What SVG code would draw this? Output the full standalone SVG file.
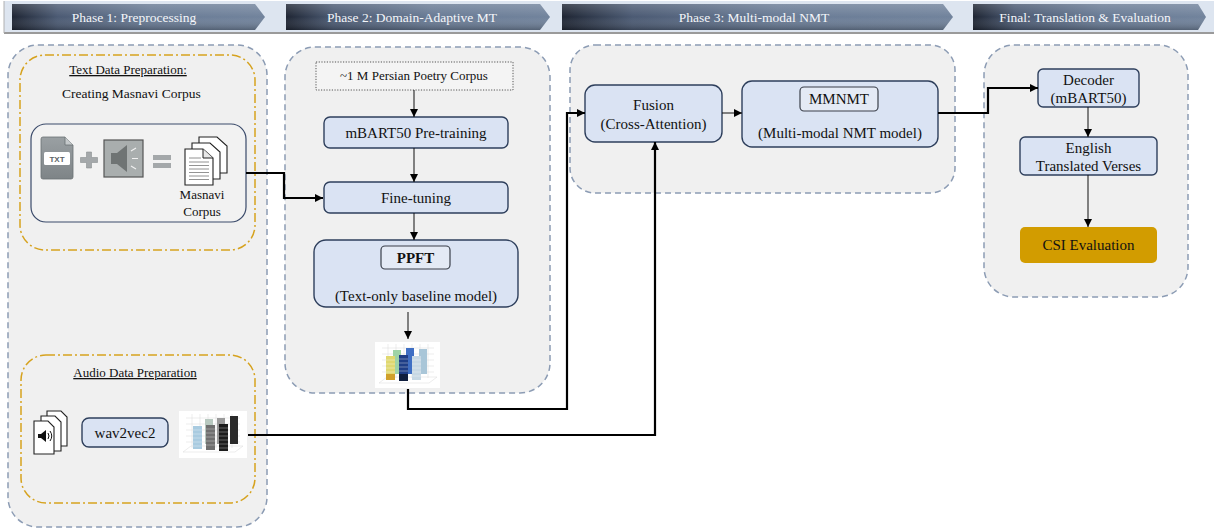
<svg xmlns="http://www.w3.org/2000/svg" width="1214" height="528" viewBox="0 0 1214 528">
  <style>
    .serif { font-family: "Liberation Serif", "Times New Roman", serif; fill: #111; }
    .hdr { font-family: "Liberation Serif", "Times New Roman", serif; font-size: 13.5px; fill: #f4f6fa; text-anchor: middle; }
    .panel { fill: #f0f0f0; stroke: #8c9cb4; stroke-width: 1.5; stroke-dasharray: 6 4; }
    .prep { fill: none; stroke: #d6a21e; stroke-width: 1.5; stroke-dasharray: 9 3 2 3; }
    .node { fill: #dae3f3; stroke: #2e3f5c; stroke-width: 1.4; }
    .tag { fill: #e4eaf5; stroke: #3a3f4a; stroke-width: 1.2; }
    .t15 { font-size: 15px; text-anchor: middle; }
    .t13 { font-size: 13px; text-anchor: middle; }
    .thin { fill: none; stroke: #111; stroke-width: 1; }
    .thick { fill: none; stroke: #000; stroke-width: 2.2; }
    .page { fill: #fff; stroke: #222; stroke-width: 1.1; }
    .grid { stroke: #d8d8d8; stroke-width: 0.5; fill: none; }
  </style>
  <defs>
    <linearGradient id="chev" x1="0" y1="0" x2="1" y2="0">
      <stop offset="0" stop-color="#1e2533"/>
      <stop offset="0.18" stop-color="#4b5a73"/>
      <stop offset="0.55" stop-color="#697b95"/>
      <stop offset="1" stop-color="#71839c"/>
    </linearGradient>
    <linearGradient id="chevShade" x1="0" y1="0" x2="0" y2="1">
      <stop offset="0" stop-color="#ffffff" stop-opacity="0.18"/>
      <stop offset="0.5" stop-color="#ffffff" stop-opacity="0"/>
      <stop offset="1" stop-color="#000000" stop-opacity="0.25"/>
    </linearGradient>
    <linearGradient id="docGrey" x1="0" y1="0" x2="0" y2="1">
      <stop offset="0" stop-color="#9aa0a3"/>
      <stop offset="1" stop-color="#7e8487"/>
    </linearGradient>
    <marker id="arr" viewBox="0 0 10 10" refX="10" refY="5" markerWidth="8" markerHeight="8" markerUnits="userSpaceOnUse" orient="auto">
      <path d="M0,0 L10,5 L0,10 z" fill="#000"/>
    </marker>
  </defs>

  <rect width="1214" height="528" fill="#ffffff"/>

  <!-- phase header band -->
  <g id="header">
    <rect x="4" y="1" width="1210" height="32" fill="#dde5f0"/>
    <line x1="4" y1="33" x2="1214" y2="33" stroke="#9a9a9a" stroke-width="2"/>
    <line x1="4" y1="1" x2="4" y2="33" stroke="#b0b0b0" stroke-width="1"/>
    <g id="phase1">
      <polygon points="12,4 255,4 265,17 255,30 12,30" fill="url(#chev)"/>
      <polygon points="12,4 255,4 265,17 255,30 12,30" fill="url(#chevShade)"/>
      <text class="hdr" x="134" y="22">Phase 1: Preprocessing</text>
    </g>
    <g id="phase2">
      <polygon points="286,4 540,4 550,17 540,30 286,30" fill="url(#chev)"/>
      <polygon points="286,4 540,4 550,17 540,30 286,30" fill="url(#chevShade)"/>
      <text class="hdr" x="412" y="22">Phase 2: Domain-Adaptive MT</text>
    </g>
    <g id="phase3">
      <polygon points="562,4 943,4 953,17 943,30 562,30" fill="url(#chev)"/>
      <polygon points="562,4 943,4 953,17 943,30 562,30" fill="url(#chevShade)"/>
      <text class="hdr" x="754" y="22">Phase 3: Multi-modal NMT</text>
    </g>
    <g id="phaseFinal">
      <polygon points="973,4 1198,4 1206,17 1198,30 973,30" fill="url(#chev)"/>
      <polygon points="973,4 1198,4 1206,17 1198,30 973,30" fill="url(#chevShade)"/>
      <text class="hdr" x="1085" y="22">Final: Translation &amp; Evaluation</text>
    </g>
  </g>

  <!-- stage panels -->
  <g id="panel-preprocessing">
    <rect class="panel" x="8" y="45" width="259" height="482" rx="30"/>
  </g>
  <g id="panel-domain">
    <rect class="panel" x="285" y="47" width="265" height="346" rx="30"/>
  </g>
  <g id="panel-multimodal">
    <rect class="panel" x="570" y="45" width="385" height="148" rx="25"/>
  </g>
  <g id="panel-final">
    <rect class="panel" x="984" y="45" width="204" height="252" rx="30"/>
  </g>

  <!-- text data preparation -->
  <g id="text-prep">
    <rect class="prep" x="20" y="55" width="235" height="195" rx="25"/>
    <text class="serif t13" x="128" y="74" text-decoration="underline">Text Data Preparation:</text>
    <text class="serif" x="62" y="98" font-size="13.5">Creating  Masnavi Corpus</text>
    <rect x="31" y="124" width="215" height="98" rx="15" fill="#f2f2f2" stroke="#3a4a6a" stroke-width="1.2"/>
    <!-- TXT file -->
    <path d="M43,137 H65 L73,145 V177 Q73,179 71,179 H43 Q41,179 41,177 V139 Q41,137 43,137 Z" fill="url(#docGrey)" stroke="#6b7174" stroke-width="0.8"/>
    <path d="M65,137 V145 H73" fill="#c4c8ca" stroke="#6b7174" stroke-width="0.8"/>
    <rect x="44" y="152" width="26" height="13" rx="1.5" fill="#fff"/>
    <text x="57" y="162" font-family="Liberation Sans, Arial, sans-serif" font-size="8" font-weight="bold" text-anchor="middle" fill="#5d6366">TXT</text>
    <!-- plus -->
    <path d="M86.5,152 h5 v5.5 h6 v5 h-6 v5.5 h-5 v-5.5 h-6 v-5 h6 z" fill="#a4a8aa" stroke="#8a8e90" stroke-width="0.6"/>
    <!-- speaker tile -->
    <rect x="104" y="140" width="39" height="37" fill="#a9aeae" stroke="#555" stroke-width="1.2"/>
    <path d="M111,153 h6 l10,-8 v27 l-10,-8 h-6 z" fill="#6f7474"/>
    <path d="M131,151 l5,-3 M132,158.5 h6 M131,166 l5,3" stroke="#f0f0f0" stroke-width="1.2"/>
    <!-- equals -->
    <rect x="153" y="155" width="18" height="5" fill="#a4a8aa"/>
    <rect x="153" y="163" width="18" height="5" fill="#a4a8aa"/>
    <!-- corpus page stack -->
    <path class="page" d="M199,137 h18 l10,9 v27 h-28 z"/>
    <path class="page" d="M192,143 h18 l10,9 v27 h-28 z"/>
    <path class="page" d="M185,149 h18 l10,9 v27 h-28 z"/>
    <path d="M203,149 v9 h10" fill="#e8e8e8" stroke="#222" stroke-width="1"/>
    <path d="M189,158 h12 M189,162 h20 M189,165.5 h20 M189,169 h20 M189,172.5 h20 M189,176 h20 M189,179.5 h20" stroke="#777" stroke-width="0.8"/>
    <text class="serif t13" x="202" y="199">Masnavi</text>
    <text class="serif t13" x="202" y="216">Corpus</text>
  </g>

  <!-- audio data preparation -->
  <g id="audio-prep">
    <rect class="prep" x="21" y="355" width="234" height="148" rx="25"/>
    <text class="serif t13" x="135" y="377" text-decoration="underline">Audio Data Preparation</text>
    <!-- audio page stack -->
    <path class="page" d="M47,411 h14 l6,6 v29 h-20 z"/>
    <path class="page" d="M41,416 h14 l6,6 v29 h-20 z"/>
    <path class="page" d="M34,421 h14 l6,6 v27 h-20 z"/>
    <path d="M38,434 h3 l5,-4 v12 l-5,-4 h-3 z" fill="#111"/>
    <path d="M48,433 q2,3 0,6 M50,431 q3.5,5 0,10" fill="none" stroke="#111" stroke-width="1"/>
  </g>
  <g id="wav2vec2">
    <rect class="node" x="82" y="418" width="86" height="29" rx="7"/>
    <text class="serif t15" x="125" y="438" font-size="15.5">wav2vec2</text>
  </g>
  <g id="audio-features">
    <rect x="179" y="411" width="68" height="47" fill="#fff"/>
    <path class="grid" d="M186,418 h54 M186,424 h54 M186,430 h54 M186,436 h54 M186,442 h54 M192,414 v34 M200,414 v34 M208,414 v34 M216,414 v34 M224,414 v34 M232,414 v34"/>
    <path class="grid" d="M183,452 l8,-6 h52 l-8,6 z"/>
    <rect x="205" y="419" width="8" height="25" fill="#b8c9c0"/>
    <rect x="217" y="418" width="8" height="26" fill="#9a9a9a"/>
    <rect x="230" y="416" width="8" height="28" fill="#2a2a2a"/>
    <rect x="193" y="426" width="9" height="23" fill="#a9cbe0"/>
    <rect x="206" y="425" width="9" height="25" fill="#6f6f6f"/>
    <rect x="219" y="424" width="9" height="27" fill="#1c1c1c"/>
    <path d="M193,430 h9 M193,434 h9 M193,438 h9 M193,442 h9 M193,446 h9 M206,429 h9 M206,433 h9 M206,437 h9 M206,441 h9 M206,445 h9 M219,428 h9 M219,432 h9 M219,436 h9 M219,440 h9 M219,444 h9 M219,448 h9" stroke="#ffffff" stroke-opacity="0.45" stroke-width="0.7"/>
  </g>

  <!-- domain-adaptive MT -->
  <g id="corpus-1m">
    <rect x="316" y="62" width="197" height="28" fill="#f4f4f4" stroke="#555" stroke-width="1" stroke-dasharray="1.2 1.5"/>
    <text class="serif t13" x="414" y="80">~1 M Persian Poetry Corpus</text>
  </g>
  <g id="pretraining">
    <rect class="node" x="324" y="117" width="184" height="31" rx="6"/>
    <text class="serif t15" x="416" y="138" font-size="15.4">mBART50 Pre-training</text>
  </g>
  <g id="finetuning">
    <rect class="node" x="324" y="182" width="184" height="31" rx="6"/>
    <text class="serif t15" x="416" y="203" font-size="15.4">Fine-tuning</text>
  </g>
  <g id="ppft">
    <rect class="node" x="314" y="240" width="204" height="67" rx="12"/>
    <rect class="tag" x="381" y="246" width="69" height="23" rx="4"/>
    <text class="serif t15" x="415.5" y="263" font-weight="bold">PPFT</text>
    <text class="serif t15" x="416" y="301">(Text-only baseline model)</text>
  </g>
  <g id="text-features">
    <rect x="375" y="342" width="65" height="46" fill="#fff"/>
    <path class="grid" d="M382,348 h52 M382,354 h52 M382,360 h52 M382,366 h52 M382,372 h52 M388,344 v34 M396,344 v34 M404,344 v34 M412,344 v34 M420,344 v34 M428,344 v34"/>
    <path class="grid" d="M379,383 l8,-6 h50 l-8,6 z"/>
    <rect x="393" y="350" width="8" height="24" fill="#9fd3a6"/>
    <rect x="406" y="348" width="8" height="26" fill="#3f6fc4"/>
    <rect x="419" y="349" width="8" height="25" fill="#a9c6d8"/>
    <rect x="386" y="356" width="9" height="24" fill="#e0d870"/>
    <rect x="399" y="355" width="9" height="26" fill="#1f3e86"/>
    <rect x="412" y="356" width="9" height="24" fill="#c7d8e4"/>
    <rect x="386" y="374" width="9" height="6" fill="#d0a02a"/>
    <rect x="399" y="374" width="9" height="7" fill="#0f1e3e"/>
    <path d="M386,360 h9 M386,364 h9 M386,368 h9 M386,372 h9 M399,359 h9 M399,363 h9 M399,367 h9 M399,371 h9 M412,360 h9 M412,364 h9 M412,368 h9 M412,372 h9 M412,376 h9" stroke="#ffffff" stroke-opacity="0.5" stroke-width="0.7"/>
  </g>

  <!-- multi-modal NMT -->
  <g id="fusion">
    <rect class="node" x="585" y="85" width="137" height="57" rx="10"/>
    <text class="serif t15" x="653.5" y="110">Fusion</text>
    <text class="serif t15" x="653.5" y="129">(Cross-Attention)</text>
  </g>
  <g id="mmnmt">
    <rect class="node" x="742" y="81" width="196" height="66" rx="10"/>
    <rect class="tag" x="800" y="87" width="78" height="24" rx="4"/>
    <text class="serif t15" x="839" y="104">MMNMT</text>
    <text class="serif t15" x="840" y="138" font-size="14">(Multi-modal NMT model)</text>
  </g>

  <!-- translation & evaluation -->
  <g id="decoder">
    <rect class="node" x="1038" y="69" width="101" height="38" rx="5"/>
    <text class="serif t15" x="1088.5" y="85">Decoder</text>
    <text class="serif t15" x="1088.5" y="103">(mBART50)</text>
  </g>
  <g id="english">
    <rect class="node" x="1020" y="137" width="137" height="38" rx="5"/>
    <text class="serif t15" x="1088.5" y="153">English</text>
    <text class="serif t15" x="1088.5" y="171">Translated Verses</text>
  </g>
  <g id="csi">
    <rect x="1020" y="227" width="137" height="36" rx="5" fill="#d29c00"/>
    <text class="serif t15" x="1088.5" y="250">CSI Evaluation</text>
  </g>

  <!-- connectors -->
  <g id="connectors">
    <path class="thick" d="M246,173 H284 V198 H323" marker-end="url(#arr)"/>
    <path class="thin" d="M414,90 V117" marker-end="url(#arr)"/>
    <path class="thin" d="M414,148 V182" marker-end="url(#arr)"/>
    <path class="thin" d="M414,213 V240" marker-end="url(#arr)"/>
    <path class="thin" d="M408,312 V339" marker-end="url(#arr)"/>
    <path class="thick" d="M408,389 V409 H567 V113 H585" marker-end="url(#arr)"/>
    <path class="thin" d="M722,113 H742" marker-end="url(#arr)"/>
    <path class="thick" d="M938,113 H988 V88 H1038" marker-end="url(#arr)"/>
    <path class="thick" d="M248,435 H655 V142" marker-end="url(#arr)"/>
    <path class="thin" d="M1088,107 V137" marker-end="url(#arr)"/>
    <path class="thin" d="M1088,175 V227" marker-end="url(#arr)"/>
  </g>
</svg>
